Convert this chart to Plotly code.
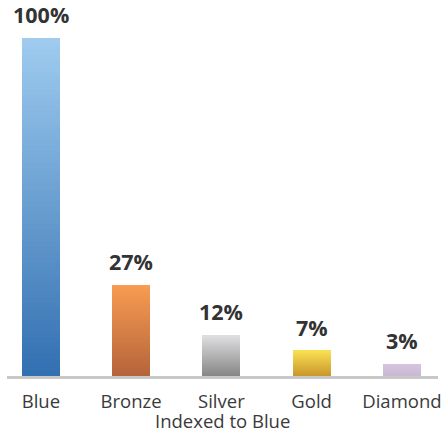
import plotly.graph_objects as go

categories = ["Blue", "Bronze", "Silver", "Gold", "Diamond"]
values = [100, 27, 12, 7.4, 3.5]
value_labels = ["100%", "27%", "12%", "7%", "3%"]
top_colors = ["#9ecbee", "#f89c52", "#dedee0", "#f9de52", "#d6c4de"]
bottom_colors = ["#3370b2", "#b5633a", "#858585", "#c8952a", "#c9b8d2"]
x_title = "Indexed to Blue"

def hex2rgb(h):
    h = h.lstrip("#")
    return tuple(int(h[i:i + 2], 16) for i in (0, 2, 4))

def mix(c1, c2, t):
    a, b = hex2rgb(c1), hex2rgb(c2)
    return "rgb({},{},{})".format(*[round(a[i] + (b[i] - a[i]) * t) for i in range(3)])

N = 60
fig = go.Figure()
for k in range(N):
    t = k / (N - 1)  # 0 bottom, 1 top
    fig.add_trace(go.Bar(
        x=categories,
        y=[v / N for v in values],
        marker=dict(color=[mix(b, tc, t) for b, tc in zip(bottom_colors, top_colors)],
                    line=dict(width=0)),
        hoverinfo="skip",
        showlegend=False,
    ))

for c, v, lab in zip(categories, values, value_labels):
    fig.add_annotation(x=c, y=v, text="<b>" + lab + "</b>", showarrow=False,
                       yanchor="bottom", yshift=7,
                       font=dict(family="Open Sans", size=21.5, color="#333333"))

fig.add_annotation(x=0.5, y=0, xref="paper", yref="paper", text=x_title, showarrow=False,
                   yanchor="middle", yshift=-44,
                   font=dict(family="Open Sans", size=18.5, color="#3a3a3a"))

top_m, bot_m = 20, 65
plot_h = 441 - top_m - bot_m
ymax = 100 * plot_h / (376 - 38)

fig.update_layout(
    width=448, height=441,
    margin=dict(l=7, r=8, t=top_m, b=bot_m, pad=0),
    barmode="stack", bargap=0.58,
    paper_bgcolor="white", plot_bgcolor="white",
    font=dict(family="Open Sans", color="#333333"),
    xaxis=dict(range=[-0.375, 4.4], showline=True, linecolor="#c8c8c8", linewidth=3,
               showgrid=False, ticks="", ticklabelstandoff=7,
               tickfont=dict(size=18.5, color="#3a3a3a")),
    yaxis=dict(range=[0, ymax], visible=False, showgrid=False, zeroline=False),
)
fig.write_html("out.html")
